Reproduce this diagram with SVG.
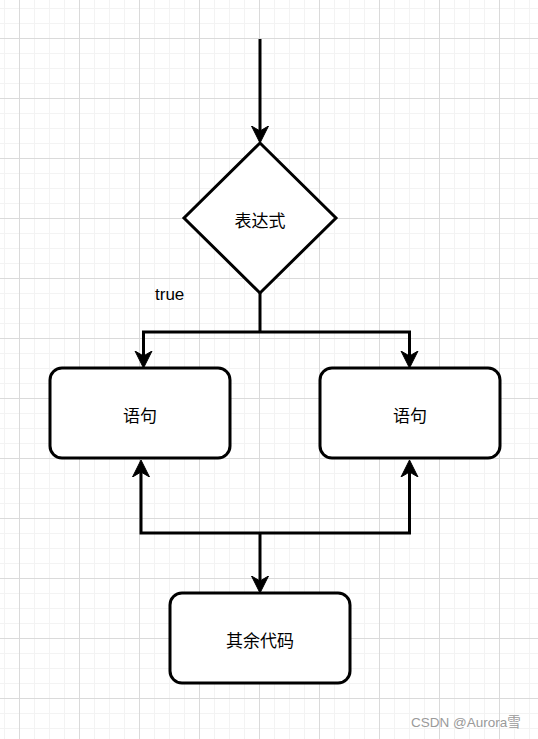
<svg xmlns="http://www.w3.org/2000/svg" width="538" height="739" viewBox="0 0 538 739">
<style>
.node{fill:#ffffff;stroke:#000000;stroke-width:3}
.lbl{font-family:"Noto Sans CJK SC","Liberation Sans",sans-serif;font-size:17px;fill:#000000;text-anchor:middle;dominant-baseline:central}
.edge{fill:none;stroke:#000000;stroke-width:3;stroke-linejoin:miter}
</style>
<defs>
<pattern id="grid" x="0" y="0" width="60" height="60" patternUnits="userSpaceOnUse">
<rect width="60" height="60" fill="#ffffff"/>
<g stroke="#f3f3f3" stroke-width="1">
<line x1="4.5" y1="0" x2="4.5" y2="60"/>
<line x1="34.5" y1="0" x2="34.5" y2="60"/>
<line x1="49.5" y1="0" x2="49.5" y2="60"/>
<line x1="0" y1="8.5" x2="60" y2="8.5"/>
<line x1="0" y1="23.5" x2="60" y2="23.5"/>
<line x1="0" y1="53.5" x2="60" y2="53.5"/>
</g>
<g stroke="#dadada" stroke-width="1">
<line x1="19.5" y1="0" x2="19.5" y2="60"/>
<line x1="0" y1="38.5" x2="60" y2="38.5"/>
</g>
</pattern>
<marker id="arrow" viewBox="0 -10 20 20" refX="5" refY="0" markerWidth="20" markerHeight="20" markerUnits="userSpaceOnUse" orient="auto-start-reverse">
<path d="M17,0 L0,-8.5 L5,0 L0,8.5 Z" fill="#000000" stroke="#000000" stroke-width="1" stroke-linejoin="miter"/>
</marker>
</defs>
<rect x="0" y="0" width="538" height="739" fill="url(#grid)"/>

<g id="connectors">
<path class="edge" d="M260,39 V131" marker-end="url(#arrow)"/>
<path class="edge" d="M260,293 V332"/>
<path class="edge" d="M143.5,356 V332 H409.5 V356" marker-start="url(#arrow)" marker-end="url(#arrow)"/>
<path class="edge" d="M141,472 V533 H409.5 V472" marker-start="url(#arrow)" marker-end="url(#arrow)"/>
<path class="edge" d="M260,533 V581" marker-end="url(#arrow)"/>
</g>

<g id="label-true">
<text x="155" y="300" font-family="'Liberation Sans',Arial,sans-serif" font-size="17" fill="#000000">true</text>
</g>

<g id="node-expr">
<polygon class="node" points="260,143 336,218 260,293 184,218"/>
<text class="lbl" x="260" y="219">表达式</text>
</g>

<g id="node-stmt-left">
<rect class="node" x="50" y="368" width="180" height="90" rx="12" ry="12"/>
<text class="lbl" x="140" y="414">语句</text>
</g>

<g id="node-stmt-right">
<rect class="node" x="320" y="368" width="180" height="90" rx="12" ry="12"/>
<text class="lbl" x="410" y="414">语句</text>
</g>

<g id="node-rest">
<rect class="node" x="170" y="593" width="180" height="90" rx="12" ry="12"/>
<text class="lbl" x="260" y="639">其余代码</text>
</g>

<g id="watermark">
<text x="411" y="727" font-family="'Liberation Sans','Noto Sans CJK SC',sans-serif" font-size="13.5" fill="#9a9a9a">CSDN @Aurora雪</text>
</g>
</svg>
